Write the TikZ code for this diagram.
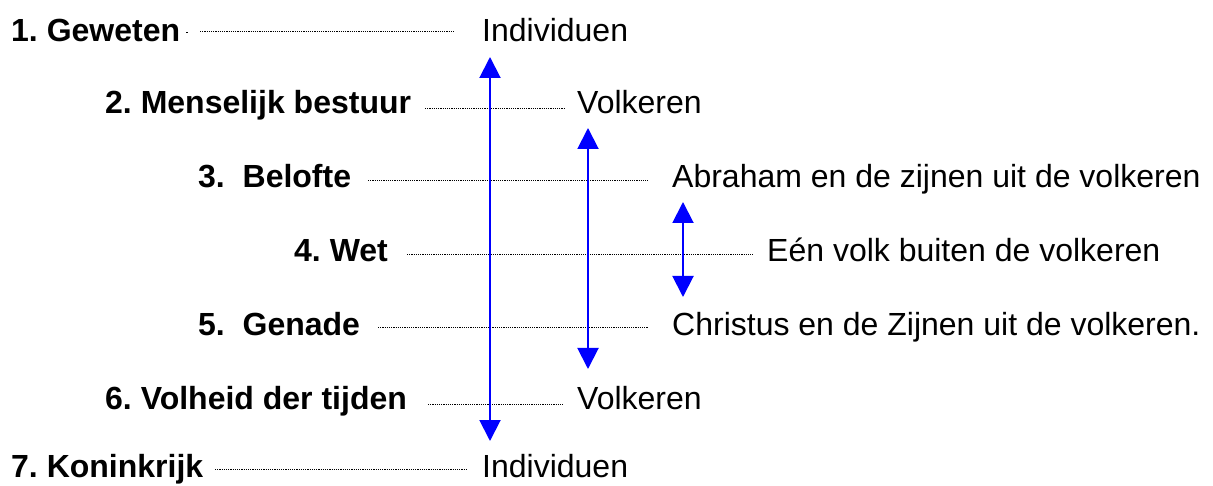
\documentclass[tikz,border=0pt]{standalone}
\usepackage{fontspec}
\setmainfont{Liberation Sans}
\usetikzlibrary{arrows.meta}
\definecolor{arrowblue}{RGB}{0,0,255}
\frenchspacing
\tikzset{
  lefttext/.style={anchor=base west, inner sep=0pt, font=\fontsize{32}{38}\selectfont\bfseries},
  righttext/.style={anchor=base west, inner sep=0pt, font=\fontsize{32}{38}\selectfont},
  dotline/.style={draw=black, line width=0.9pt, dash pattern=on 1.1pt off 1.1pt},
  bluearrow/.style={draw=arrowblue, line width=2pt, {Triangle[width=21pt,length=21pt]}-{Triangle[width=21pt,length=21pt]}, fill=arrowblue}
}
\begin{document}
\begin{tikzpicture}[x=1pt,y=-1pt]
\useasboundingbox (0,0) rectangle (1213,486);
% left labels
\node[lefttext] (l1) at (11,42) {1. Geweten};
\node[lefttext] (l2) at (105,114) {2. Menselijk bestuur};
\node[lefttext] (l3) at (198,188) {3.\ \ Belofte};
\node[lefttext] (l4) at (294,262) {4. Wet};
\node[lefttext] (l5) at (198,335) {5.\ \ Genade};
\node[lefttext] (l6) at (105,409) {6. Volheid der tijden};
\node[lefttext] (l7) at (11,477) {7. Koninkrijk};
% right labels
\node[righttext] (r1) at (482,42) {Individuen};
\node[righttext] (r2) at (577,114) {Volkeren};
\node[righttext] (r3) at (672,188) {Abraham en de zijnen uit de volkeren};
\node[righttext] (r4) at (767,262) {Eén volk buiten de volkeren};
\node[righttext] (r5) at (672,335) {Christus en de Zijnen uit de volkeren.};
\node[righttext] (r6) at (577,409) {Volkeren};
\node[righttext] (r7) at (482,477) {Individuen};
% dotted connectors
\coordinate (d1dot) at (186,33);
\coordinate (d1s) at (200,31); \coordinate (d1e) at (455,31);
\coordinate (d2s) at (425,108); \coordinate (d2e) at (564,108);
\coordinate (d3s) at (368,180); \coordinate (d3e) at (648,180);
\coordinate (d4s) at (407,254); \coordinate (d4e) at (753,254);
\coordinate (d5s) at (378,327); \coordinate (d5e) at (648,327);
\coordinate (d6s) at (428,404); \coordinate (d6e) at (564,404);
\coordinate (d7s) at (215,469); \coordinate (d7e) at (467,469);
\draw[line width=1pt] (d1dot) -- ++(1.5,0);
\draw[dotline] (d1s) -- (d1e);
\draw[dotline] (d2s) -- (d2e);
\draw[dotline] (d3s) -- (d3e);
\draw[dotline] (d4s) -- (d4e);
\draw[dotline] (d5s) -- (d5e);
\draw[dotline] (d6s) -- (d6e);
\draw[dotline] (d7s) -- (d7e);
% blue arrows
\coordinate (a1t) at (490,57); \coordinate (a1b) at (490,441);
\coordinate (a2t) at (588,128); \coordinate (a2b) at (588,369);
\coordinate (a3t) at (683,202); \coordinate (a3b) at (683,297);
\draw[bluearrow] (a1t) -- (a1b);
\draw[bluearrow] (a2t) -- (a2b);
\draw[bluearrow] (a3t) -- (a3b);
\end{tikzpicture}
\end{document}
